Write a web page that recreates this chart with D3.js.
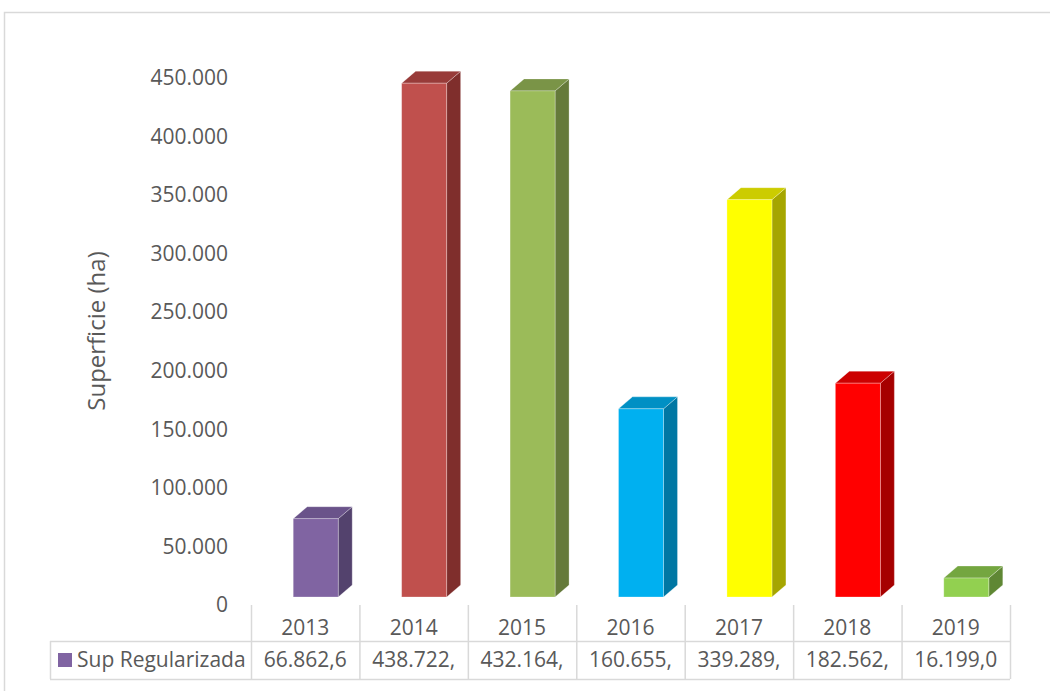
<!DOCTYPE html>
<html>
<head>
<meta charset="utf-8">
<script src="https://cdn.jsdelivr.net/npm/d3@7"></script>
<style>
  body { margin: 0; background: #fff; }
  svg text { font-family: "Open Sans", "DejaVu Sans", sans-serif; fill: #595959; }
</style>
</head>
<body>
<svg id="chart" width="1050" height="691"></svg>
<script>
// data
var years = ['2013', '2014', '2015', '2016', '2017', '2018', '2019'];
var supRegularizada = [66862.6, 438722.0, 432164.0, 160655.0, 339289.0, 182562.0, 16199.0];
var yTicks = [0, 50000, 100000, 150000, 200000, 250000, 300000, 350000, 400000, 450000];
var seriesName = 'Sup Regularizada';
var axisTitle = 'Superficie (ha)';

// front / top / side colours per bar
var frontColors = ['#8064a2', '#c0504d', '#9bbb59', '#00b0f0', '#ffff00', '#ff0000', '#92d050'];
var topColors = ['#6a538a', '#983b39', '#7a9447', '#0090c4', '#cccc00', '#cc0000', '#74a640'];
var sideColors = ['#53426d', '#7f2e2c', '#657a3a', '#0077a3', '#a6a600', '#a60000', '#5f8734'];

var svg = d3.select('#chart');
var gridColor = '#d9d9d9';
var fontSize = 21;

var esLocale = d3.formatLocale({decimal: ',', thousands: '.', grouping: [3], currency: ['', '']});
var tickFmt = esLocale.format(',.0f');
var cellFmt = esLocale.format(',.1f');

var x = d3.scaleBand().domain(years).range([251, 1010]).padding(0);
var y = d3.scaleLinear().domain([0, 450000]).range([605, 78]);

var depthX = 14, depthY = -12, lift = 8, barW = 45;

// chart frame
svg.append('rect')
    .attr('x', 4.5).attr('y', 12.5)
    .attr('width', 1100).attr('height', 720)
    .attr('fill', 'none').attr('stroke', gridColor).attr('stroke-width', 1.5);

// y axis labels
var yAxis = d3.axisLeft(y).tickValues(yTicks).tickFormat(tickFmt).tickSize(0).tickPadding(0);
var yg = svg.append('g').attr('transform', 'translate(228,0)').call(yAxis);
yg.select('.domain').remove();
yg.selectAll('text')
    .attr('font-size', fontSize)
    .attr('fill', '#595959')
    .style('font-family', '"Open Sans", sans-serif');

svg.append('text')
    .attr('transform', 'translate(105,331) rotate(-90)')
    .attr('text-anchor', 'middle')
    .attr('font-size', 24)
    .text(axisTitle);

// bars
var bars = svg.append('g').selectAll('g')
    .data(years)
    .join('g');

bars.each(function (yr, i) {
    var g = d3.select(this);
    var v = supRegularizada[i];
    var x0 = x(yr) + x.bandwidth() / 2 - 12;
    var x1 = x0 + barW;
    var yb = y(0) - lift;
    var yt = yb - (y(0) - y(v));

    g.append('path')
        .attr('d', 'M' + x1 + ',' + yt + 'L' + (x1 + depthX) + ',' + (yt + depthY) +
            'L' + (x1 + depthX) + ',' + (yb + depthY) + 'L' + x1 + ',' + yb + 'Z')
        .attr('fill', sideColors[i])
        .attr('stroke', 'rgba(255,255,255,0.35)').attr('stroke-width', 0.8);
    g.append('path')
        .attr('d', 'M' + x0 + ',' + yt + 'L' + (x0 + depthX) + ',' + (yt + depthY) +
            'L' + (x1 + depthX) + ',' + (yt + depthY) + 'L' + x1 + ',' + yt + 'Z')
        .attr('fill', topColors[i])
        .attr('stroke', 'rgba(255,255,255,0.35)').attr('stroke-width', 0.8);
    g.append('rect')
        .attr('x', x0).attr('y', yt)
        .attr('width', barW).attr('height', yb - yt)
        .attr('fill', frontColors[i])
        .attr('stroke', 'rgba(255,255,255,0.35)').attr('stroke-width', 0.8);
});

// category separators + data table
var tableTop = 641, tableBottom = 679, tableLeft = 50;
var bounds = years.map(function (d) { return x(d); }).concat([x.range()[1]]);

svg.append('g').selectAll('line')
    .data(bounds)
    .join('line')
    .attr('x1', function (d) { return d + 0.5; })
    .attr('x2', function (d) { return d + 0.5; })
    .attr('y1', 605)
    .attr('y2', tableBottom)
    .attr('stroke', gridColor).attr('stroke-width', 1.5);

svg.append('line')
    .attr('x1', tableLeft).attr('x2', x.range()[1])
    .attr('y1', tableTop + 0.5).attr('y2', tableTop + 0.5)
    .attr('stroke', gridColor).attr('stroke-width', 1.5);
svg.append('line')
    .attr('x1', tableLeft).attr('x2', x.range()[1])
    .attr('y1', tableBottom + 0.5).attr('y2', tableBottom + 0.5)
    .attr('stroke', gridColor).attr('stroke-width', 1.5);
svg.append('line')
    .attr('x1', tableLeft + 0.5).attr('x2', tableLeft + 0.5)
    .attr('y1', tableTop).attr('y2', tableBottom)
    .attr('stroke', gridColor).attr('stroke-width', 1.5);

svg.append('g').selectAll('text')
    .data(years)
    .join('text')
    .attr('x', function (d) { return x(d) + x.bandwidth() / 2; })
    .attr('y', 628)
    .attr('dy', '0.35em')
    .attr('text-anchor', 'middle')
    .attr('font-size', fontSize)
    .text(function (d) { return d; });

// legend key + series name
svg.append('rect')
    .attr('x', 58).attr('y', 653)
    .attr('width', 14).attr('height', 14)
    .attr('fill', frontColors[0]);
svg.append('text')
    .attr('x', 77).attr('y', 660)
    .attr('dy', '0.35em')
    .attr('font-size', fontSize)
    .text(seriesName);

// cell values, clipped to the cell width like the spreadsheet does
svg.append('g').selectAll('text')
    .data(supRegularizada)
    .join('text')
    .attr('x', function (d, i) { return x(years[i]) + x.bandwidth() / 2; })
    .attr('y', 660)
    .attr('dy', '0.35em')
    .attr('text-anchor', 'middle')
    .attr('font-size', fontSize)
    .text(function (d) { return cellFmt(d).slice(0, 8); });
</script>
</body>
</html>
